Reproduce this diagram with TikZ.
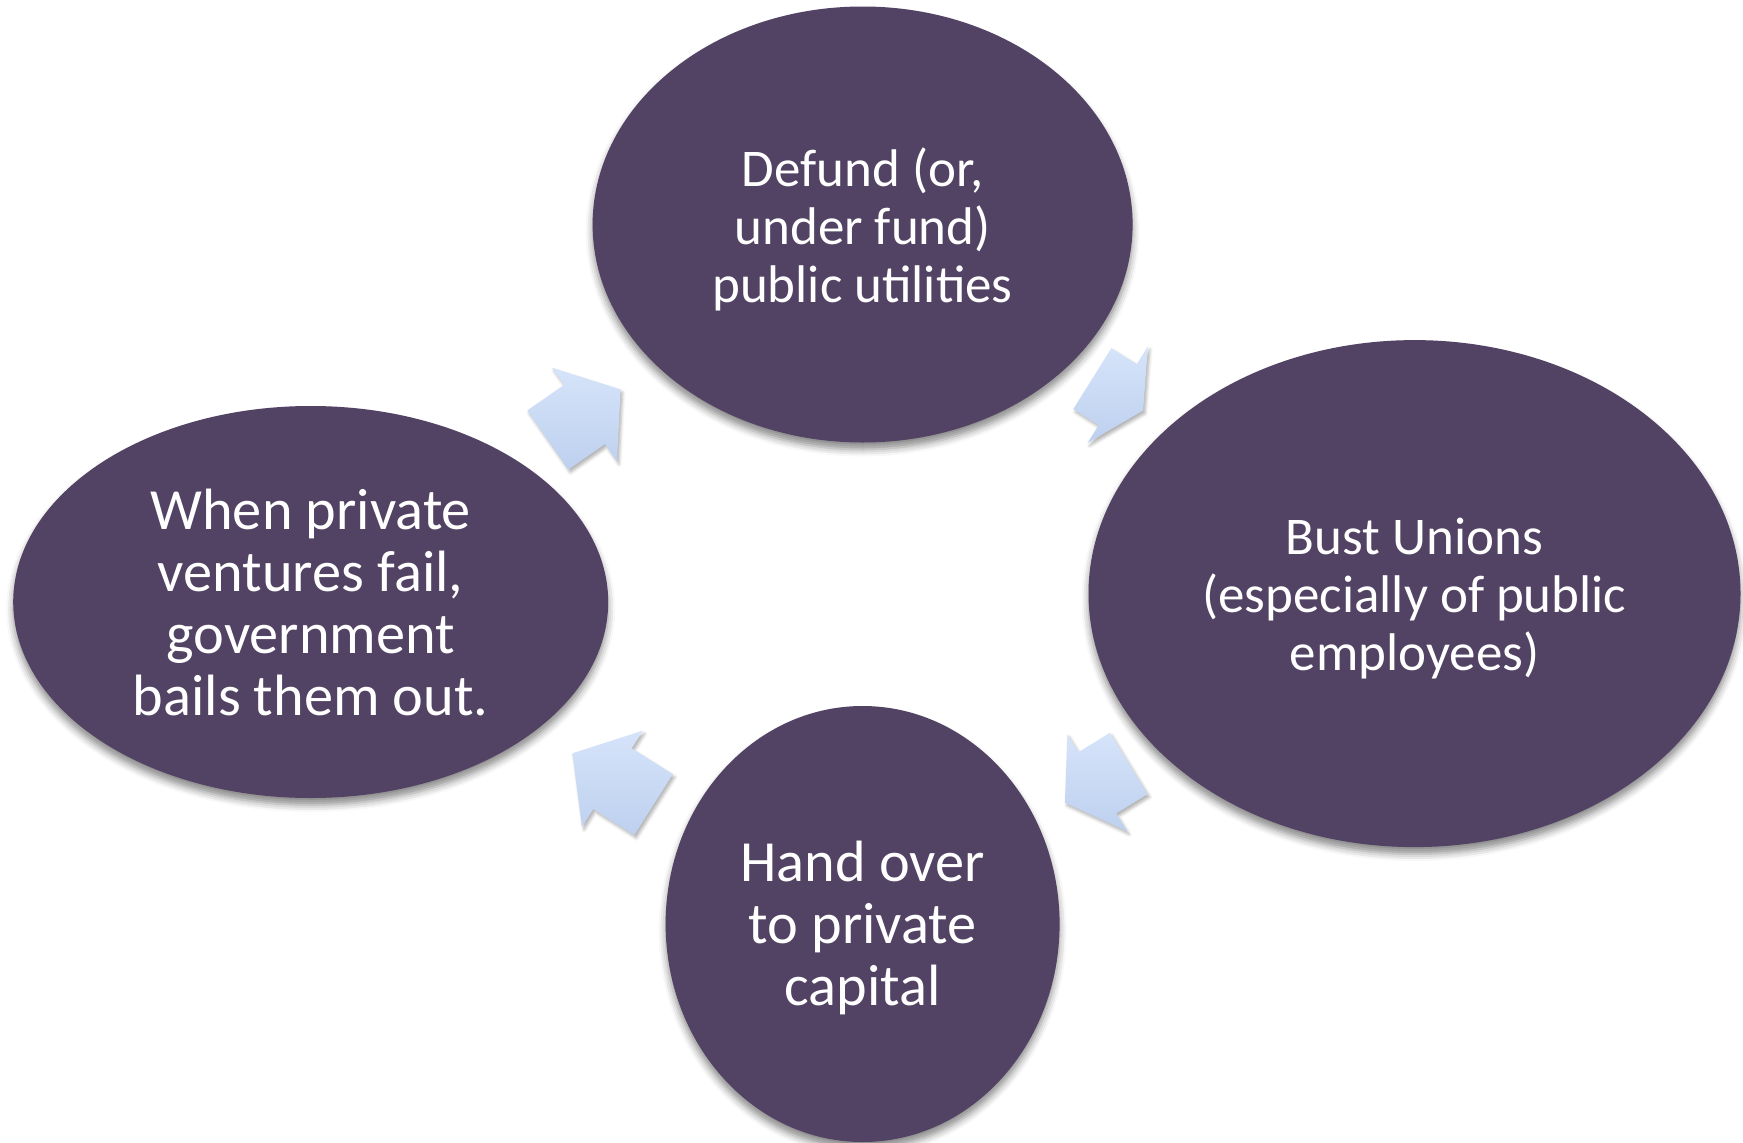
\documentclass[tikz,border=0pt]{standalone}
\usepackage{fontspec}
\setmainfont{Carlito}
\usetikzlibrary{shapes.geometric,calc,shadows.blur}
\definecolor{ellfill}{HTML}{524263}
\definecolor{arrtop}{HTML}{D6E4FA}
\definecolor{arrbot}{HTML}{BDD0EE}
\tikzset{
  ell/.style={ellipse, fill=ellfill, inner sep=0pt,
    blur shadow={shadow xshift=0pt, shadow yshift=-7pt, shadow blur radius=7pt, shadow opacity=45}},
  txt/.style={text=white, align=center, inner sep=0pt},
  smalltext/.style={font=\fontsize{53}{58}\selectfont},
  bigtext/.style={font=\fontsize{58.3}{62.3}\selectfont},
  cyclearrow/.style={top color=arrtop, bottom color=arrbot, draw=none,
    blur shadow={shadow xshift=2pt, shadow yshift=-3pt, shadow blur radius=3pt, shadow opacity=30}}
}
% #1 x, #2 y (image coords, y down), #3 angle, #4 body length, #5 head length
\newcommand\cyclearr[5]{%
  \shade[cyclearrow]
    ($(#1,-#2)+(#3+180:#4)+(#3+90:36)$) --
    ($(#1,-#2)+(#3+90:36)$) --
    ($(#1,-#2)+(#3+90:57)$) --
    ($(#1,-#2)+(#3:#5)$) --
    ($(#1,-#2)+(#3-90:57)$) --
    ($(#1,-#2)+(#3-90:36)$) --
    ($(#1,-#2)+(#3+180:#4)+(#3-90:36)$) -- cycle;
}
\begin{document}
\begin{tikzpicture}[x=1pt,y=1pt]
\useasboundingbox (0,0) rectangle (1743,-1143);
\node[ell, minimum width=540pt, minimum height=436pt] (defund) at (862.6,-224.5) {};
\node[ell, minimum width=652pt, minimum height=507pt] (bust) at (1414.5,-593.6) {};
\node[ell, minimum width=394pt, minimum height=436pt] (hand) at (862.6,-924) {};
\node[ell, minimum width=595pt, minimum height=392pt] (bail) at (310.7,-602) {};
\node[txt, smalltext] (defundtext) at ([yshift=-4.5pt]defund.center)
  {Defund (or,\\under fund)\\public utilities};
\node[txt, smalltext] (busttext) at ([yshift=-4.5pt]bust.center)
  {Bust Unions\\(especially of public\\employees)};
\node[txt, bigtext] (handtext) at ([yshift=-4pt]hand.center)
  {Hand over\\to private\\capital};
\node[txt, bigtext] (bailtext) at ([yshift=-0.5pt]bail.center)
  {When private\\ventures fail,\\government\\bails them out.};
\cyclearr{1117.7}{394.6}{-32}{30}{30}
\cyclearr{1097.3}{782.8}{211.6}{37}{38}
\cyclearr{612.5}{778.7}{147.7}{48.6}{47.5}
\cyclearr{584.5}{414.5}{34.8}{44.7}{44}
\end{tikzpicture}
\end{document}
